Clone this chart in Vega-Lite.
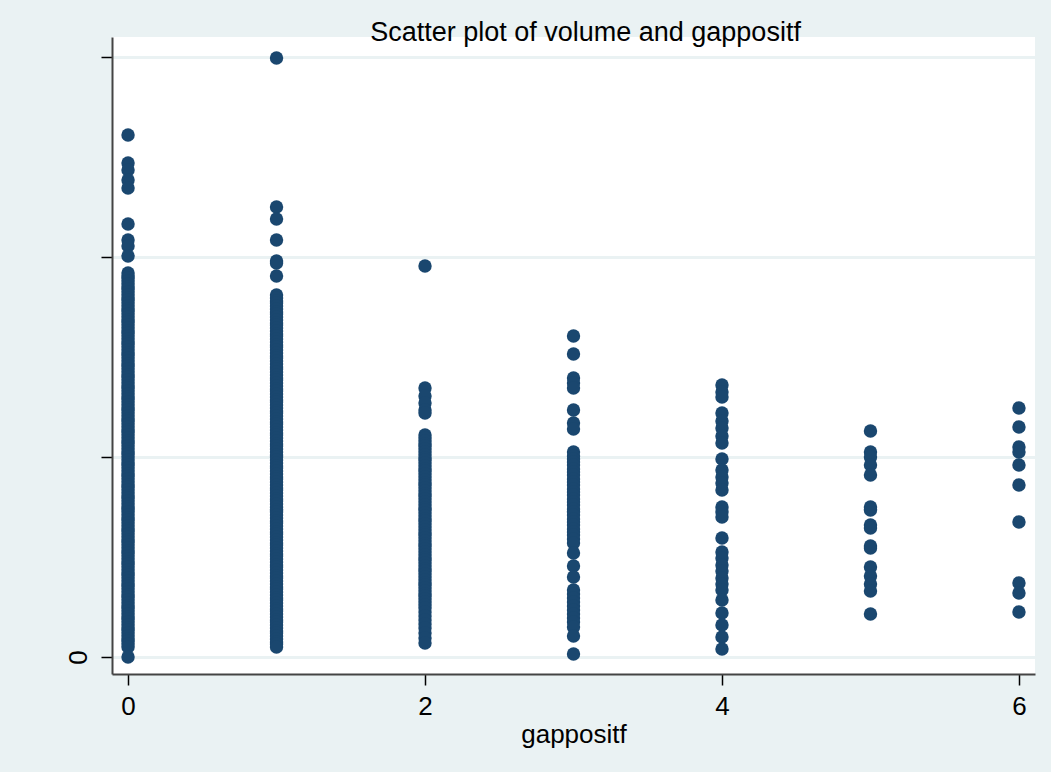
{
  "$schema": "https://vega.github.io/schema/vega-lite/v6.json",
  "width": 923,
  "height": 637,
  "autosize": {"type": "none"},
  "padding": {"left": 112, "top": 37, "right": 16, "bottom": 98},
  "background": "#EAF2F3",
  "view": {"fill": "white", "stroke": null},
  "title": {
    "text": "Scatter plot of volume and gappositf",
    "font": "Liberation Sans",
    "fontSize": 27,
    "fontWeight": "normal",
    "color": "#000000",
    "anchor": "middle",
    "baseline": "alphabetic",
    "offset": -5,
    "dy": 26,
    "dx": 12
  },
  "data": {"values": [
    {"g":0,"v":522},{"g":0,"v":494},{"g":0,"v":487},{"g":0,"v":477},{"g":0,"v":469},{"g":0,"v":433},{"g":0,"v":417},{"g":0,"v":411},{"g":0,"v":401},
    {"g":0,"v":384},{"g":0,"v":381},{"g":0,"v":379},{"g":0,"v":376},{"g":0,"v":373},{"g":0,"v":370},{"g":0,"v":368},{"g":0,"v":365},{"g":0,"v":362},{"g":0,"v":359},{"g":0,"v":357},{"g":0,"v":354},{"g":0,"v":351},{"g":0,"v":348},{"g":0,"v":346},{"g":0,"v":343},{"g":0,"v":340},{"g":0,"v":337},{"g":0,"v":335},{"g":0,"v":332},{"g":0,"v":329},{"g":0,"v":326},{"g":0,"v":324},{"g":0,"v":321},{"g":0,"v":318},{"g":0,"v":315},{"g":0,"v":313},{"g":0,"v":310},{"g":0,"v":307},{"g":0,"v":304},{"g":0,"v":302},{"g":0,"v":299},{"g":0,"v":296},{"g":0,"v":293},{"g":0,"v":291},{"g":0,"v":288},{"g":0,"v":285},{"g":0,"v":282},{"g":0,"v":280},{"g":0,"v":277},{"g":0,"v":274},{"g":0,"v":271},{"g":0,"v":269},{"g":0,"v":266},{"g":0,"v":263},{"g":0,"v":260},{"g":0,"v":258},{"g":0,"v":255},{"g":0,"v":252},{"g":0,"v":249},{"g":0,"v":247},{"g":0,"v":244},{"g":0,"v":241},{"g":0,"v":238},{"g":0,"v":236},{"g":0,"v":233},{"g":0,"v":230},{"g":0,"v":227},{"g":0,"v":225},{"g":0,"v":222},{"g":0,"v":219},{"g":0,"v":216},{"g":0,"v":214},{"g":0,"v":211},{"g":0,"v":208},{"g":0,"v":205},{"g":0,"v":203},{"g":0,"v":200},{"g":0,"v":197},{"g":0,"v":194},{"g":0,"v":192},{"g":0,"v":189},{"g":0,"v":186},{"g":0,"v":183},{"g":0,"v":181},{"g":0,"v":178},{"g":0,"v":175},{"g":0,"v":172},{"g":0,"v":170},{"g":0,"v":167},{"g":0,"v":164},{"g":0,"v":161},{"g":0,"v":159},{"g":0,"v":156},{"g":0,"v":153},{"g":0,"v":150},{"g":0,"v":148},{"g":0,"v":145},{"g":0,"v":142},{"g":0,"v":139},{"g":0,"v":137},{"g":0,"v":134},{"g":0,"v":131},{"g":0,"v":128},{"g":0,"v":126},{"g":0,"v":123},{"g":0,"v":120},{"g":0,"v":117},{"g":0,"v":115},{"g":0,"v":112},{"g":0,"v":109},{"g":0,"v":106},{"g":0,"v":104},{"g":0,"v":101},{"g":0,"v":98},{"g":0,"v":95},{"g":0,"v":93},{"g":0,"v":90},{"g":0,"v":87},{"g":0,"v":84},{"g":0,"v":82},{"g":0,"v":79},{"g":0,"v":76},{"g":0,"v":73},{"g":0,"v":71},{"g":0,"v":68},{"g":0,"v":65},{"g":0,"v":62},{"g":0,"v":60},{"g":0,"v":57},{"g":0,"v":54},{"g":0,"v":51},{"g":0,"v":49},{"g":0,"v":46},{"g":0,"v":43},{"g":0,"v":40},{"g":0,"v":38},{"g":0,"v":35},{"g":0,"v":32},{"g":0,"v":29},{"g":0,"v":27},{"g":0,"v":24},{"g":0,"v":21},{"g":0,"v":18},{"g":0,"v":16},{"g":0,"v":13},{"g":0,"v":10},{"g":0,"v":0},
    {"g":1,"v":599},{"g":1,"v":450},{"g":1,"v":438},{"g":1,"v":417},{"g":1,"v":396},{"g":1,"v":394},{"g":1,"v":381},
    {"g":1,"v":362},{"g":1,"v":359},{"g":1,"v":356},{"g":1,"v":354},{"g":1,"v":351},{"g":1,"v":348},{"g":1,"v":345},{"g":1,"v":343},{"g":1,"v":340},{"g":1,"v":337},{"g":1,"v":334},{"g":1,"v":332},{"g":1,"v":329},{"g":1,"v":326},{"g":1,"v":323},{"g":1,"v":321},{"g":1,"v":318},{"g":1,"v":315},{"g":1,"v":312},{"g":1,"v":310},{"g":1,"v":307},{"g":1,"v":304},{"g":1,"v":301},{"g":1,"v":299},{"g":1,"v":296},{"g":1,"v":293},{"g":1,"v":290},{"g":1,"v":288},{"g":1,"v":285},{"g":1,"v":282},{"g":1,"v":279},{"g":1,"v":277},{"g":1,"v":274},{"g":1,"v":271},{"g":1,"v":268},{"g":1,"v":266},{"g":1,"v":263},{"g":1,"v":260},{"g":1,"v":257},{"g":1,"v":255},{"g":1,"v":252},{"g":1,"v":249},{"g":1,"v":246},{"g":1,"v":244},{"g":1,"v":241},{"g":1,"v":238},{"g":1,"v":235},{"g":1,"v":233},{"g":1,"v":230},{"g":1,"v":227},{"g":1,"v":224},{"g":1,"v":222},{"g":1,"v":219},{"g":1,"v":216},{"g":1,"v":213},{"g":1,"v":211},{"g":1,"v":208},{"g":1,"v":205},{"g":1,"v":202},{"g":1,"v":200},{"g":1,"v":197},{"g":1,"v":194},{"g":1,"v":191},{"g":1,"v":189},{"g":1,"v":186},{"g":1,"v":183},{"g":1,"v":180},{"g":1,"v":178},{"g":1,"v":175},{"g":1,"v":172},{"g":1,"v":169},{"g":1,"v":167},{"g":1,"v":164},{"g":1,"v":161},{"g":1,"v":158},{"g":1,"v":156},{"g":1,"v":153},{"g":1,"v":150},{"g":1,"v":147},{"g":1,"v":145},{"g":1,"v":142},{"g":1,"v":139},{"g":1,"v":136},{"g":1,"v":134},{"g":1,"v":131},{"g":1,"v":128},{"g":1,"v":125},{"g":1,"v":123},{"g":1,"v":120},{"g":1,"v":117},{"g":1,"v":114},{"g":1,"v":112},{"g":1,"v":109},{"g":1,"v":106},{"g":1,"v":103},{"g":1,"v":101},{"g":1,"v":98},{"g":1,"v":95},{"g":1,"v":92},{"g":1,"v":90},{"g":1,"v":87},{"g":1,"v":84},{"g":1,"v":81},{"g":1,"v":79},{"g":1,"v":76},{"g":1,"v":73},{"g":1,"v":70},{"g":1,"v":68},{"g":1,"v":65},{"g":1,"v":62},{"g":1,"v":59},{"g":1,"v":57},{"g":1,"v":54},{"g":1,"v":51},{"g":1,"v":48},{"g":1,"v":46},{"g":1,"v":43},{"g":1,"v":40},{"g":1,"v":37},{"g":1,"v":35},{"g":1,"v":32},{"g":1,"v":29},{"g":1,"v":26},{"g":1,"v":24},{"g":1,"v":21},{"g":1,"v":18},{"g":1,"v":15},{"g":1,"v":13},{"g":1,"v":10},
    {"g":2,"v":391},{"g":2,"v":269},{"g":2,"v":261},{"g":2,"v":254},{"g":2,"v":247},{"g":2,"v":244},
    {"g":2,"v":222},{"g":2,"v":219},{"g":2,"v":216},{"g":2,"v":213},{"g":2,"v":211},{"g":2,"v":208},{"g":2,"v":205},{"g":2,"v":202},{"g":2,"v":199},{"g":2,"v":197},{"g":2,"v":194},{"g":2,"v":191},{"g":2,"v":188},{"g":2,"v":186},{"g":2,"v":183},{"g":2,"v":180},{"g":2,"v":177},{"g":2,"v":174},{"g":2,"v":172},{"g":2,"v":169},{"g":2,"v":166},{"g":2,"v":163},{"g":2,"v":161},{"g":2,"v":158},{"g":2,"v":155},{"g":2,"v":152},{"g":2,"v":149},{"g":2,"v":147},{"g":2,"v":144},{"g":2,"v":141},{"g":2,"v":138},{"g":2,"v":136},{"g":2,"v":133},{"g":2,"v":130},{"g":2,"v":127},{"g":2,"v":124},{"g":2,"v":122},{"g":2,"v":119},{"g":2,"v":116},{"g":2,"v":113},{"g":2,"v":111},{"g":2,"v":108},{"g":2,"v":105},{"g":2,"v":102},{"g":2,"v":99},{"g":2,"v":97},{"g":2,"v":94},{"g":2,"v":91},{"g":2,"v":88},{"g":2,"v":86},{"g":2,"v":83},{"g":2,"v":80},{"g":2,"v":77},{"g":2,"v":74},{"g":2,"v":72},{"g":2,"v":69},{"g":2,"v":66},{"g":2,"v":63},{"g":2,"v":61},{"g":2,"v":58},{"g":2,"v":55},{"g":2,"v":52},{"g":2,"v":49},{"g":2,"v":45},{"g":2,"v":41},{"g":2,"v":37},{"g":2,"v":33},{"g":2,"v":29},{"g":2,"v":24},{"g":2,"v":19},{"g":2,"v":14},
    {"g":3,"v":321},{"g":3,"v":303},{"g":3,"v":279},{"g":3,"v":274},{"g":3,"v":269},{"g":3,"v":247},{"g":3,"v":234},{"g":3,"v":228},
    {"g":3,"v":205},{"g":3,"v":201},{"g":3,"v":198},{"g":3,"v":195},{"g":3,"v":192},{"g":3,"v":188},{"g":3,"v":185},{"g":3,"v":182},{"g":3,"v":178},{"g":3,"v":175},{"g":3,"v":172},{"g":3,"v":168},{"g":3,"v":165},{"g":3,"v":162},{"g":3,"v":158},{"g":3,"v":155},{"g":3,"v":152},{"g":3,"v":148},{"g":3,"v":145},{"g":3,"v":142},{"g":3,"v":138},{"g":3,"v":135},{"g":3,"v":132},{"g":3,"v":128},{"g":3,"v":125},{"g":3,"v":122},{"g":3,"v":118},{"g":3,"v":114},
    {"g":3,"v":104},{"g":3,"v":91},{"g":3,"v":80},
    {"g":3,"v":67},{"g":3,"v":63},{"g":3,"v":59},{"g":3,"v":55},{"g":3,"v":51},{"g":3,"v":47},{"g":3,"v":43},{"g":3,"v":39},{"g":3,"v":35},{"g":3,"v":30},{"g":3,"v":21},{"g":3,"v":3},
    {"g":4,"v":272},{"g":4,"v":265},{"g":4,"v":260},{"g":4,"v":244},{"g":4,"v":236},{"g":4,"v":229},{"g":4,"v":221},{"g":4,"v":214},{"g":4,"v":198},{"g":4,"v":187},{"g":4,"v":180},{"g":4,"v":174},{"g":4,"v":167},{"g":4,"v":150},{"g":4,"v":145},{"g":4,"v":140},{"g":4,"v":119},{"g":4,"v":105},{"g":4,"v":99},{"g":4,"v":92},{"g":4,"v":86},{"g":4,"v":79},{"g":4,"v":73},{"g":4,"v":67},{"g":4,"v":57},{"g":4,"v":44},{"g":4,"v":32},{"g":4,"v":20},{"g":4,"v":8},
    {"g":5,"v":226},{"g":5,"v":205},{"g":5,"v":200},{"g":5,"v":192},{"g":5,"v":182},{"g":5,"v":150},{"g":5,"v":147},{"g":5,"v":132},{"g":5,"v":129},{"g":5,"v":111},{"g":5,"v":109},{"g":5,"v":90},{"g":5,"v":81},{"g":5,"v":73},{"g":5,"v":66},{"g":5,"v":43},
    {"g":6,"v":249},{"g":6,"v":230},{"g":6,"v":210},{"g":6,"v":205},{"g":6,"v":192},{"g":6,"v":172},{"g":6,"v":135},{"g":6,"v":74},{"g":6,"v":64},{"g":6,"v":45}
  ]},
  "mark": {"type": "circle", "size": 180, "color": "#1a476f", "opacity": 1},
  "encoding": {
    "x": {
      "field": "g", "type": "quantitative", "title": "gappositf",
      "scale": {"domain": [-0.108, 6.108], "nice": false, "zero": false},
      "axis": {
        "values": [0, 2, 4, 6], "grid": false,
        "domainColor": "#444444", "domainWidth": 2,
        "tickColor": "#000000", "tickSize": 11, "tickWidth": 1.5,
        "labelFont": "Liberation Sans", "labelFontSize": 26, "labelColor": "#000000", "labelPadding": 8,
        "titleFont": "Liberation Sans", "titleFontSize": 26, "titleFontWeight": "normal", "titleColor": "#000000", "titlePadding": 2
      }
    },
    "y": {
      "field": "v", "type": "quantitative", "title": null,
      "scale": {"domain": [-17, 620], "nice": false, "zero": false},
      "axis": {
        "values": [0, 200, 400, 600], "grid": true, "gridColor": "#EAF2F3", "gridWidth": 3,
        "labelExpr": "datum.value == 0 ? '0' : ''",
        "labelAngle": -90, "labelAlign": "center", "labelBaseline": "bottom",
        "domainColor": "#444444", "domainWidth": 2,
        "tickColor": "#000000", "tickSize": 11, "tickWidth": 1.5,
        "labelFont": "Liberation Sans", "labelFontSize": 26, "labelColor": "#000000", "labelPadding": 10
      }
    }
  }
}
